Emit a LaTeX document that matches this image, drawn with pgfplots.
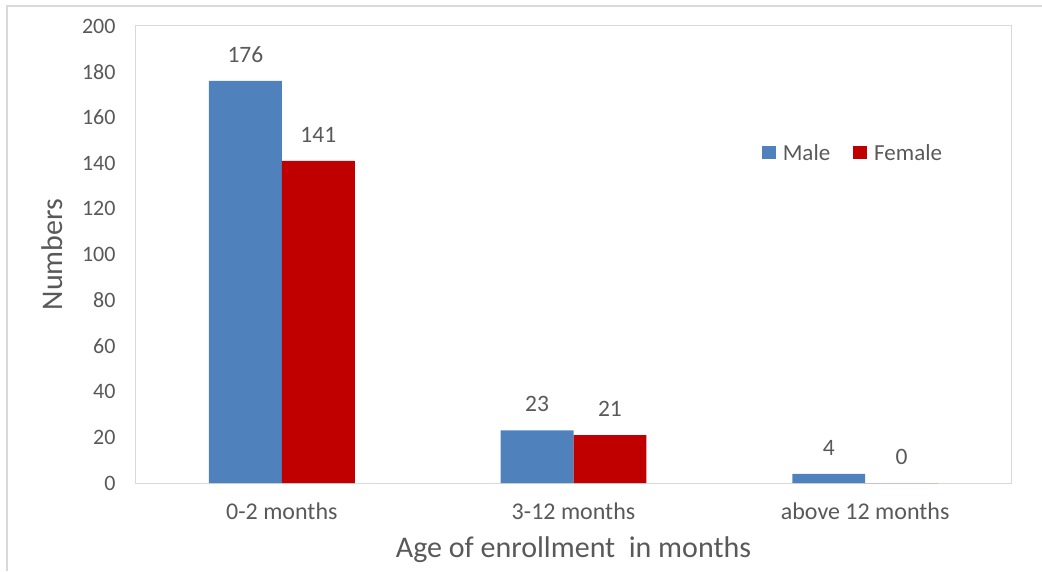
\documentclass[border=0pt]{standalone}
\usepackage{pgfplots}
\pgfplotsset{compat=1.18}
\usepackage{fontspec}
\setmainfont{Carlito}

\definecolor{malec}{RGB}{79,129,189}
\definecolor{femalec}{RGB}{192,0,0}
\definecolor{txt}{RGB}{89,89,89}
\definecolor{framec}{RGB}{217,217,217}

\pgfplotstableread{
x male female
0 176 141
1 23 21
2 4 0
}\enrol

\begin{document}
\begin{tikzpicture}
\path[use as bounding box] (0pt,0pt) rectangle (1042pt,571pt);
\draw[framec, line width=1.2pt] (7pt,0pt) -- (7pt,565pt) -- (1042pt,565pt);
\begin{axis}[
  at={(136pt,88pt)}, anchor=south west,
  scale only axis, width=875pt, height=457pt,
  ybar=0pt, bar width=0.25,
  xmin=-0.5, xmax=2.5,
  ymin=0, ymax=200,
  ytick={0,20,...,200},
  xtick={0,1,2},
  xticklabels={0-2 months, 3-12 months, above 12 months},
  major tick length=0pt,
  axis line style={framec, line width=1pt},
  tick label style={font=\fontsize{22}{26}\selectfont, text=txt},
  /pgf/number format/assume math mode=true,
  yticklabel style={xshift=-17pt},
  xticklabel style={yshift=-16pt, font=\fontsize{24}{28}\selectfont},
  xlabel={Age of enrollment\ \ in months},
  ylabel={Numbers},
  label style={font=\fontsize{30}{34}\selectfont, text=txt},
  xlabel style={at={(axis description cs:0.5,-0.1466)}, anchor=center},
  ylabel style={at={(axis description cs:-0.096,0.5)}, anchor=center},
  nodes near coords,
  nodes near coords style={font=\fontsize{23.5}{27}\selectfont, text=txt, anchor=center, yshift=26pt},
  legend columns=2,
  legend style={at={(rel axis cs:0.715,0.722)}, anchor=west, draw=none, fill=none,
    font=\fontsize{23}{26}\selectfont, text=txt, inner sep=0pt,
    /tikz/every odd column/.append style={column sep=5pt},
    /tikz/every even column/.append style={column sep=21pt}},
  legend image code/.code={\fill[#1] (0pt,-6pt) rectangle (14pt,7pt);},
]
\addplot[fill=malec, draw=none] table[x=x, y=male] {\enrol};
\addplot[fill=femalec, draw=none] table[x=x, y=female] {\enrol};
\legend{Male, Female}
\end{axis}
\end{tikzpicture}
\end{document}
